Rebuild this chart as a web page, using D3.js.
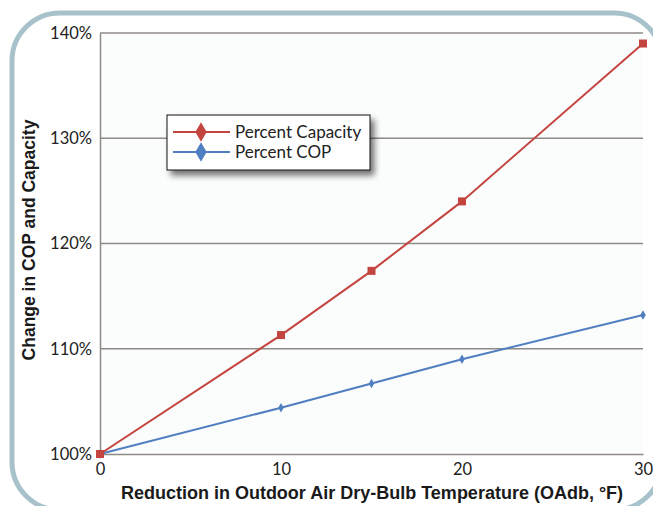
<!DOCTYPE html>
<html>
<head>
<meta charset="utf-8">
<script src="https://cdn.jsdelivr.net/npm/d3@7"></script>
<style>
  html, body { margin: 0; padding: 0; background: #ffffff; }
  svg { display: block; }
</style>
</head>
<body>
<svg id="chart" width="653" height="506"></svg>
<script>
// Reduction in outdoor air dry-bulb temperature (°F)
const reductions = [0, 10, 15, 20, 30];
// Percent of baseline capacity and COP at each reduction
const percentCapacity = [100, 111.3, 117.4, 124.0, 139.0];
const percentCOP = [100, 104.4, 106.7, 109.0, 113.2];
const xTicks = [0, 10, 20, 30];
const yTicks = [100, 110, 120, 130, 140];
const seriesNames = ["Percent Capacity", "Percent COP"];

const svg = d3.select("#chart");
const plot = { left: 100, right: 643, top: 33, bottom: 454 };

const tickFont = "Lato, 'Open Sans', sans-serif";
const titleFont = "'Liberation Sans', Arial, sans-serif";
const red = "#c4453f", blue = "#4f7fc0", grid = "#8e8a86";

const defs = svg.append("defs");
const shadow = defs.append("filter").attr("id", "shadow")
  .attr("x", "-20%").attr("y", "-30%").attr("width", "150%").attr("height", "180%");
shadow.append("feGaussianBlur").attr("in", "SourceAlpha").attr("stdDeviation", 3);
shadow.append("feOffset").attr("dx", 4).attr("dy", 5).attr("result", "off");
shadow.append("feComponentTransfer").append("feFuncA").attr("type", "linear").attr("slope", 0.55);
const merge = shadow.append("feMerge");
merge.append("feMergeNode");
merge.append("feMergeNode").attr("in", "SourceGraphic");

// Rounded frame around the figure
svg.append("rect")
  .attr("x", 12).attr("y", 13).attr("width", 650).attr("height", 497)
  .attr("rx", 48).attr("ry", 48)
  .attr("fill", "#ffffff").attr("stroke", "#a8c2cb").attr("stroke-width", 5);

const x = d3.scaleLinear().domain([0, 30]).range([plot.left, plot.right]);
const y = d3.scaleLinear().domain([100, 140]).range([plot.bottom, plot.top]);

// Plot background
svg.append("rect")
  .attr("x", plot.left).attr("y", plot.top)
  .attr("width", plot.right - plot.left).attr("height", plot.bottom - plot.top)
  .attr("fill", "#fbfcfc");

// Horizontal gridlines
svg.append("g").selectAll("line").data(yTicks.filter(d => d > 100)).join("line")
  .attr("x1", plot.left).attr("x2", plot.right)
  .attr("y1", d => y(d)).attr("y2", d => y(d))
  .attr("stroke", grid).attr("stroke-width", 1.5);

// Y axis
const yAxis = svg.append("g").attr("transform", `translate(${plot.left},0)`)
  .call(d3.axisLeft(y).tickValues(yTicks).tickSize(0).tickPadding(8).tickFormat(d => d + "%"));
yAxis.select(".domain").attr("stroke", grid).attr("stroke-width", 1.5);
yAxis.selectAll("text").attr("font-family", tickFont).attr("font-size", 16.5).attr("fill", "#222");

// X axis
const xAxis = svg.append("g").attr("transform", `translate(0,${plot.bottom})`)
  .call(d3.axisBottom(x).tickValues(xTicks).tickSize(0).tickPadding(9));
xAxis.select(".domain").attr("stroke", grid).attr("stroke-width", 1.5);
xAxis.selectAll("text").attr("font-family", tickFont).attr("font-size", 16.5).attr("fill", "#222");

// Axis titles
svg.append("text")
  .attr("transform", "translate(35,240) rotate(-90)")
  .attr("text-anchor", "middle")
  .attr("font-family", titleFont).attr("font-weight", "bold").attr("font-size", 17.5)
  .attr("fill", "#1a1a1a")
  .text("Change in COP and Capacity");
svg.append("text")
  .attr("x", 372).attr("y", 499)
  .attr("text-anchor", "middle")
  .attr("font-family", titleFont).attr("font-weight", "bold").attr("font-size", 18)
  .attr("fill", "#1a1a1a")
  .text("Reduction in Outdoor Air Dry-Bulb Temperature (OAdb, °F)");

const line = d3.line().x(d => x(d[0])).y(d => y(d[1]));
const capPts = reductions.map((r, i) => [r, percentCapacity[i]]);
const copPts = reductions.map((r, i) => [r, percentCOP[i]]);

// COP series
svg.append("path").datum(copPts).attr("d", line)
  .attr("fill", "none").attr("stroke", blue).attr("stroke-width", 2);
svg.append("g").selectAll("path").data(copPts).join("path")
  .attr("transform", d => `translate(${x(d[0])},${y(d[1])})`)
  .attr("d", d3.symbol(d3.symbolDiamond, 26))
  .attr("fill", blue);

// Capacity series
svg.append("path").datum(capPts).attr("d", line)
  .attr("fill", "none").attr("stroke", red).attr("stroke-width", 2);
svg.append("g").selectAll("rect").data(capPts).join("rect")
  .attr("x", d => x(d[0]) - 4).attr("y", d => y(d[1]) - 4)
  .attr("width", 8).attr("height", 8)
  .attr("fill", red);

// Legend
const legend = svg.append("g").attr("transform", "translate(167,115)");
legend.append("rect")
  .attr("width", 203).attr("height", 55)
  .attr("fill", "#ffffff").attr("stroke", "#111").attr("stroke-width", 1)
  .attr("filter", "url(#shadow)");
const colors = [red, blue];
seriesNames.forEach((name, i) => {
  const cy = 17 + i * 20;
  legend.append("line").attr("x1", 6).attr("x2", 63).attr("y1", cy).attr("y2", cy)
    .attr("stroke", colors[i]).attr("stroke-width", 2);
  legend.append("path").attr("transform", `translate(34,${cy})`)
    .attr("d", d3.symbol(d3.symbolDiamond, 110)).attr("fill", colors[i]);
  legend.append("text").attr("x", 68).attr("y", cy + 5.5)
    .attr("font-family", tickFont).attr("font-size", 17).attr("fill", "#222")
    .text(name);
});
</script>
</body>
</html>
